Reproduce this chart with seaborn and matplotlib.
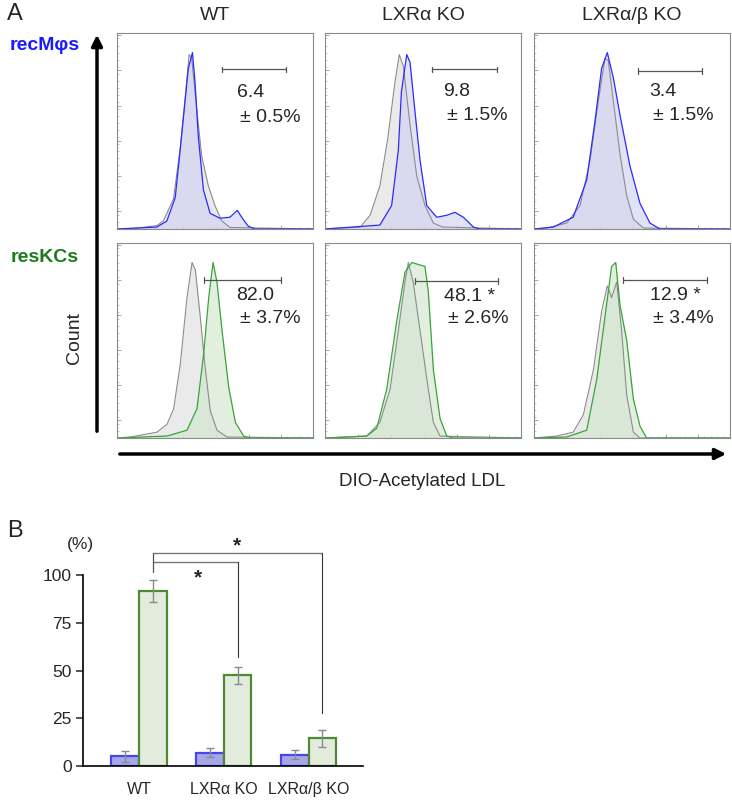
import numpy as np
import pandas as pd
import matplotlib
matplotlib.use("Agg")
import matplotlib.pyplot as plt
import seaborn as sns

W, H = 732, 802

genotypes = ["WT", "LXRα KO", "LXRα/β KO"]
cell_types = ["recMφs", "resKCs"]

# histogram traces (x, y as fraction of each panel)
# top row: recMφs (gray = control, blue = DIO-AcLDL)
wt_rec_ctrl_x = [0.0, 0.085, 0.203, 0.237, 0.288, 0.322, 0.347, 0.368, 0.381, 0.407, 0.432, 0.466, 0.50, 0.534, 0.576, 1.0]
wt_rec_ctrl_y = [0.0, 0.003, 0.017, 0.042, 0.153, 0.407, 0.661, 0.890, 0.873, 0.610, 0.373, 0.220, 0.119, 0.042, 0.008, 0.0]
wt_rec_x = [0.0, 0.203, 0.254, 0.297, 0.322, 0.342, 0.364, 0.385, 0.398, 0.415, 0.441, 0.475, 0.525, 0.576, 0.614, 0.636, 0.669, 0.703, 1.0]
wt_rec_y = [0.0, 0.01, 0.04, 0.16, 0.40, 0.60, 0.82, 0.90, 0.75, 0.47, 0.20, 0.08, 0.055, 0.06, 0.095, 0.06, 0.015, 0.0, 0.0]

ko_rec_ctrl_x = [0.0, 0.18, 0.23, 0.28, 0.32, 0.357, 0.379, 0.40, 0.434, 0.468, 0.51, 0.553, 0.60, 1.0]
ko_rec_ctrl_y = [0.0, 0.01, 0.07, 0.22, 0.46, 0.75, 0.89, 0.83, 0.53, 0.27, 0.12, 0.03, 0.01, 0.0]
ko_rec_x = [0.0, 0.28, 0.34, 0.374, 0.39, 0.417, 0.434, 0.459, 0.485, 0.519, 0.57, 0.621, 0.663, 0.706, 0.757, 0.79, 1.0]
ko_rec_y = [0.0, 0.02, 0.12, 0.40, 0.70, 0.89, 0.85, 0.60, 0.35, 0.12, 0.06, 0.07, 0.085, 0.06, 0.01, 0.0, 0.0]

dko_rec_ctrl_x = [0.0, 0.065, 0.167, 0.235, 0.286, 0.328, 0.362, 0.379, 0.405, 0.439, 0.473, 0.507, 0.558, 1.0]
dko_rec_ctrl_y = [0.0, 0.005, 0.03, 0.12, 0.35, 0.65, 0.87, 0.86, 0.65, 0.38, 0.17, 0.05, 0.005, 0.0]
dko_rec_x = [0.0, 0.099, 0.20, 0.269, 0.311, 0.345, 0.374, 0.405, 0.439, 0.49, 0.541, 0.592, 0.643, 1.0]
dko_rec_y = [0.0, 0.01, 0.06, 0.25, 0.55, 0.82, 0.90, 0.77, 0.58, 0.32, 0.13, 0.03, 0.0, 0.0]

# bottom row: resKCs (gray = control, green = DIO-AcLDL)
wt_kc_ctrl_x = [0.0, 0.068, 0.204, 0.255, 0.289, 0.323, 0.357, 0.383, 0.40, 0.425, 0.451, 0.476, 0.51, 0.561, 1.0]
wt_kc_ctrl_y = [0.0, 0.005, 0.03, 0.07, 0.15, 0.38, 0.72, 0.90, 0.86, 0.62, 0.35, 0.14, 0.04, 0.005, 0.0]
wt_kc_x = [0.0, 0.255, 0.357, 0.408, 0.442, 0.468, 0.49, 0.51, 0.536, 0.57, 0.604, 0.646, 0.68, 1.0]
wt_kc_y = [0.0, 0.01, 0.04, 0.15, 0.43, 0.72, 0.90, 0.80, 0.55, 0.26, 0.08, 0.01, 0.0, 0.0]

ko_kc_ctrl_x = [0.0, 0.213, 0.28, 0.332, 0.374, 0.408, 0.425, 0.45, 0.485, 0.527, 0.553, 0.587, 1.0]
ko_kc_ctrl_y = [0.0, 0.01, 0.08, 0.25, 0.55, 0.80, 0.90, 0.80, 0.55, 0.25, 0.08, 0.01, 0.0]
ko_kc_x = [0.0, 0.213, 0.264, 0.315, 0.366, 0.408, 0.442, 0.476, 0.51, 0.527, 0.553, 0.587, 0.621, 0.655, 1.0]
ko_kc_y = [0.0, 0.01, 0.05, 0.25, 0.60, 0.85, 0.90, 0.89, 0.88, 0.75, 0.35, 0.10, 0.01, 0.0, 0.0]

dko_kc_ctrl_x = [0.0, 0.116, 0.20, 0.252, 0.303, 0.345, 0.374, 0.396, 0.422, 0.447, 0.473, 0.507, 0.541, 1.0]
dko_kc_ctrl_y = [0.0, 0.01, 0.03, 0.12, 0.35, 0.65, 0.78, 0.72, 0.80, 0.55, 0.22, 0.03, 0.0, 0.0]
dko_kc_x = [0.0, 0.167, 0.269, 0.32, 0.362, 0.396, 0.417, 0.439, 0.473, 0.507, 0.541, 0.575, 1.0]
dko_kc_y = [0.0, 0.005, 0.04, 0.30, 0.62, 0.88, 0.90, 0.68, 0.50, 0.20, 0.06, 0.0, 0.0]

# gate annotations
rec_pct = ["6.4", "9.8", "3.4"]
rec_sd = ["± 0.5%", "± 1.5%", "± 1.5%"]
kc_pct = ["82.0", "48.1 *", "12.9 *"]
kc_sd = ["± 3.7%", "± 2.6%", "± 3.4%"]

# panel B: % DIO-AcLDL positive
rec_mean = [5.0, 7.0, 6.0]
rec_err = [3.0, 2.2, 2.5]
kc_mean = [91.5, 47.5, 14.5]
kc_err = [5.8, 4.5, 4.5]

sns.set_style("white")
plt.rcParams["font.family"] = ["Liberation Sans", "DejaVu Sans"]

BLUE = "#2b2bff"
BLUE_FILL = "#cfcff3"
GREEN = "#3aa33a"
GREEN_FILL = "#cfe5cb"
GRAY = "#8c8c8c"
GRAY_FILL = "#e4e4e4"


def px(x, y):
    return x / W, 1 - y / H


def add_ax(left, top, width, height):
    return fig.add_axes([left / W, 1 - (top + height) / H, width / W, height / H])


def draw_hist(ax, ctrl, sample, line_col, fill_col, gate, label_pos, pct, sd):
    cx, cy = ctrl
    sx, sy = sample
    ax.fill_between(cx, cy, color=GRAY_FILL, alpha=0.75, lw=0)
    ax.fill_between(sx, sy, color=fill_col, alpha=0.6, lw=0)
    sns.lineplot(x=cx, y=cy, ax=ax, color=GRAY, lw=0.8, sort=False, estimator=None)
    sns.lineplot(x=sx, y=sy, ax=ax, color=line_col, lw=0.9, sort=False, estimator=None)
    ax.set_xlim(0, 1)
    ax.set_ylim(0, 1)
    # gate bar
    g0, g1, gy = gate
    ax.plot([g0, g1], [gy, gy], color="#555555", lw=0.9)
    for g in (g0, g1):
        ax.plot([g, g], [gy - 0.015, gy + 0.015], color="#555555", lw=0.9)
    tx1, ty1, tx2, ty2 = label_pos
    ax.text(tx1, ty1, pct, fontsize=14, va="center", ha="left")
    ax.text(tx2, ty2, sd, fontsize=14, va="center", ha="left")
    for s in ax.spines.values():
        s.set_color("#8a8a8a")
        s.set_linewidth(0.8)
    ax.set_xticks(np.arange(0.17, 1.0, 0.167))
    ax.set_xticks(np.arange(0.0, 1.0, 0.0334), minor=True)
    ax.set_yticks(np.arange(0.09, 1.0, 0.18))
    ax.set_yticks(np.arange(0.0, 1.0, 0.036), minor=True)
    ax.tick_params(which="major", direction="in", length=3, color="#9a9a9a", width=0.6,
                   labelbottom=False, labelleft=False, bottom=True, left=True)
    ax.tick_params(which="minor", direction="in", length=1.5, color="#b0b0b0", width=0.5,
                   bottom=True, left=True)
    ax.set_xlabel("")
    ax.set_ylabel("")


fig = plt.figure(figsize=(W / 100, H / 100), dpi=100)

col_left = [117, 325, 534]
rec_traces = [((wt_rec_ctrl_x, wt_rec_ctrl_y), (wt_rec_x, wt_rec_y)),
              ((ko_rec_ctrl_x, ko_rec_ctrl_y), (ko_rec_x, ko_rec_y)),
              ((dko_rec_ctrl_x, dko_rec_ctrl_y), (dko_rec_x, dko_rec_y))]
kc_traces = [((wt_kc_ctrl_x, wt_kc_ctrl_y), (wt_kc_x, wt_kc_y)),
             ((ko_kc_ctrl_x, ko_kc_ctrl_y), (ko_kc_x, ko_kc_y)),
             ((dko_kc_ctrl_x, dko_kc_ctrl_y), (dko_kc_x, dko_kc_y))]
rec_gates = [(0.537, 0.864, 0.814), (0.548, 0.876, 0.814), (0.529, 0.859, 0.808)]
kc_gates = [(0.442, 0.837, 0.809), (0.459, 0.884, 0.807), (0.456, 0.881, 0.809)]
rec_label_pos = [(0.61, 0.694, 0.627, 0.571), (0.604, 0.70, 0.624, 0.577),
                 (0.588, 0.70, 0.609, 0.577)]
kc_label_pos = [(0.607, 0.733, 0.626, 0.615), (0.609, 0.726, 0.629, 0.615),
                (0.592, 0.733, 0.609, 0.615)]

for i in range(3):
    ax = add_ax(col_left[i], 33, 196, 196)
    draw_hist(ax, rec_traces[i][0], rec_traces[i][1], BLUE, BLUE_FILL,
              rec_gates[i], rec_label_pos[i], rec_pct[i], rec_sd[i])
    ax = add_ax(col_left[i], 243, 196, 195)
    draw_hist(ax, kc_traces[i][0], kc_traces[i][1], GREEN, GREEN_FILL,
              kc_gates[i], kc_label_pos[i], kc_pct[i], kc_sd[i])
    fig.text(*px(col_left[i] + 98, 16), genotypes[i], fontsize=14, ha="center", va="center")

# axis arrows
fig.add_artist(matplotlib.patches.FancyArrowPatch(
    (97 / W, 1 - 434 / H), (97 / W, 1 - 32 / H), transform=fig.transFigure,
    arrowstyle="-|>", mutation_scale=16, lw=2.5, color="black"))
fig.add_artist(matplotlib.patches.FancyArrowPatch(
    (117 / W, 1 - 454 / H), (729 / W, 1 - 454 / H), transform=fig.transFigure,
    arrowstyle="-|>", mutation_scale=16, lw=2.5, color="black"))

fig.text(*px(7, 14), "A", fontsize=17, ha="left", va="center")
fig.text(*px(45, 46), cell_types[0], fontsize=14, fontweight="bold", color="#1a1aff",
         ha="center", va="center")
fig.text(*px(45, 258), cell_types[1], fontsize=14, fontweight="bold", color="#1f7a1f",
         ha="center", va="center")
fig.text(*px(74, 338), "Count", fontsize=14, rotation=90, ha="center", va="center")
fig.text(*px(422, 481), "DIO-Acetylated LDL", fontsize=13.5, ha="center", va="center")

# panel B
fig.text(*px(7, 531), "B", fontsize=17, ha="left", va="center")
fig.text(*px(80, 545), "(%)", fontsize=12.5, ha="center", va="center")

df = pd.DataFrame({
    "genotype": genotypes * 2,
    "cell": [cell_types[0]] * 3 + [cell_types[1]] * 3,
    "value": rec_mean + kc_mean,
})
errs = [rec_err, kc_err]

axb = add_ax(83, 537, 280, 229)
sns.barplot(data=df, x="genotype", y="value", hue="cell", order=genotypes,
            hue_order=cell_types, palette=["#9c9cf2", "#e2efd9"], width=0.65,
            errorbar=None, legend=False, ax=axb)
bar_conts = list(axb.containers)
edge_cols = ["#4646f0", "#4f8a30"]
centers = []
for k, cont in enumerate(bar_conts):
    xs = []
    for bar in cont:
        bar.set_edgecolor(edge_cols[k])
        bar.set_linewidth(1.6)
        xs.append(bar.get_x() + bar.get_width() / 2)
    centers.append(xs)
for k, xs in enumerate(centers):
    means = rec_mean if k == 0 else kc_mean
    axb.errorbar(xs, means, yerr=errs[k], fmt="none", ecolor="#8a8a8a",
                 elinewidth=1, capsize=3, capthick=1)

axb.set_xlim(-0.66, 2.64)
axb.set_ylim(0, 120)
axb.set_yticks([0, 25, 50, 75, 100])
axb.spines["left"].set_bounds(0, 100)
axb.spines["top"].set_visible(False)
axb.spines["right"].set_visible(False)
for s in ("left", "bottom"):
    axb.spines[s].set_color("black")
    axb.spines[s].set_linewidth(1.2)
axb.tick_params(axis="y", left=True, length=5, width=1.1, labelsize=12.5, pad=3)
axb.tick_params(axis="x", bottom=False, labelsize=11.5, pad=8)
axb.set_xlabel("")
axb.set_ylabel("")

# significance brackets (WT vs KO, resKCs)
ref_x = centers[1][0]
sig_ends = [(1, 106.8, 57), (2, 111.5, 28)]
for j, top, low in sig_ends:
    xe = centers[1][j]
    axb.plot([ref_x, xe], [top, top], color="#777777", lw=1, clip_on=False)
    axb.plot([xe, xe], [top, low], color="#333333", lw=0.8, clip_on=False)
axb.plot([ref_x, ref_x], [101.6, 111.5], color="#555555", lw=0.9, clip_on=False)
axb.text(0.70, 98.5, "*", fontsize=15, fontweight="bold", ha="center", va="center")
axb.text(1.156, 115.5, "*", fontsize=15, fontweight="bold", ha="center", va="center")

fig.savefig("out.png", dpi=100)
